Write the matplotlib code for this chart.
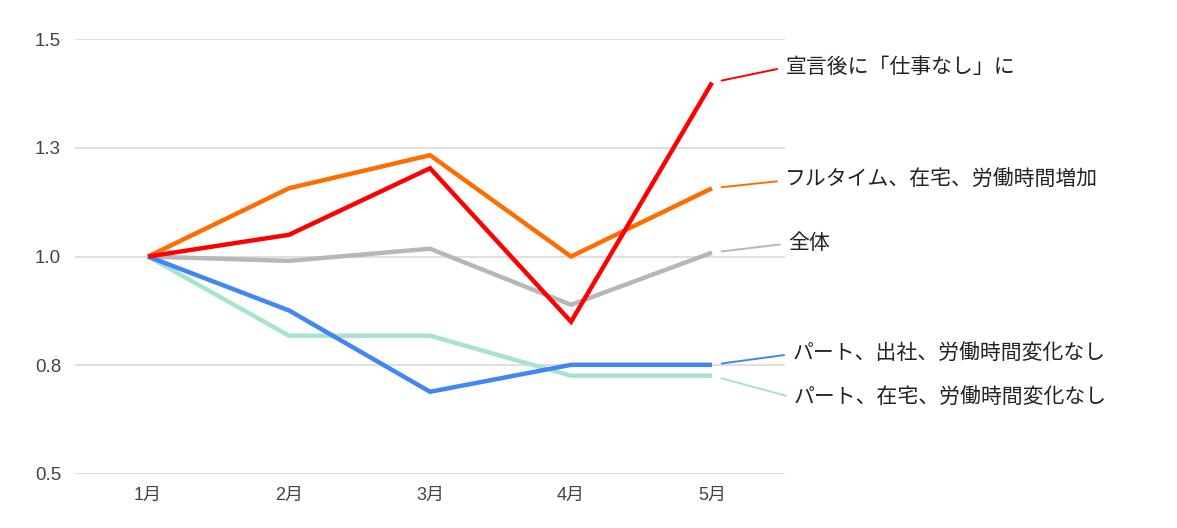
import matplotlib
matplotlib.use('Agg')
import matplotlib.pyplot as plt

plt.rcParams['font.family'] = ['Liberation Sans', 'Noto Sans CJK JP', 'DejaVu Sans']

months = ['1月', '2月', '3月', '4月', '5月']
y_ticks = [0.5, 0.75, 1.0, 1.25, 1.5]
y_tick_labels = ['0.5', '0.8', '1.0', '1.3', '1.5']

zentai = [1.0, 0.99, 1.018, 0.889, 1.009]
part_home = [1.0, 0.818, 0.818, 0.726, 0.726]
part_office = [1.0, 0.876, 0.689, 0.751, 0.751]
fulltime = [1.0, 1.157, 1.233, 1.0, 1.157]
no_work = [1.0, 1.05, 1.203, 0.85, 1.40]

names = ['全体', 'パート、在宅、労働時間変化なし', 'パート、出社、労働時間変化なし',
         'フルタイム、在宅、労働時間増加', '宣言後に「仕事なし」に']
series = [zentai, part_home, part_office, fulltime, no_work]
colors = ['#b7b7b7', '#a8e4cb', '#4285f4', '#ff6d01', '#ff0000']
# label positions (x, y) in data coords, right of the plot area
label_pos = [(4.54, 1.03), (4.58, 0.675), (4.57, 0.776), (4.52, 1.175), (4.52, 1.435)]

fig = plt.figure(figsize=(11.77, 5.28), dpi=100)
ax = fig.add_axes([0.0637, 0.1023, 0.6033, 0.8237])

x = list(range(len(months)))
for vals, c, name, pos in zip(series, colors, names, label_pos):
    ax.plot(x, vals, color=c, lw=3.2, solid_capstyle='butt', solid_joinstyle='miter')
    ax.annotate(name, xy=(x[-1], vals[-1]), xytext=pos, textcoords='data',
                fontsize=15, color='#222222', va='center', ha='left',
                family=['Noto Sans CJK JP', 'DejaVu Sans'],
                annotation_clip=False,
                arrowprops=dict(arrowstyle='-', color=c, lw=1.4,
                                shrinkA=4, shrinkB=7, relpos=(0, 0.5)))

ax.set_xlim(-0.518, 4.518)
ax.set_ylim(0.5, 1.5)
ax.set_xticks(x)
ax.set_xticklabels(months)
ax.set_yticks(y_ticks)
ax.set_yticklabels(y_tick_labels)
ax.tick_params(length=0, labelcolor='#444444')
ax.tick_params(axis='y', pad=10, labelsize=13.5)
ax.tick_params(axis='x', pad=9, labelsize=13)
ax.yaxis.grid(True, color='#d9d9d9', lw=1.2)
ax.set_axisbelow(True)
for s in ax.spines.values():
    s.set_visible(False)

plt.savefig('out.png', dpi=100)
